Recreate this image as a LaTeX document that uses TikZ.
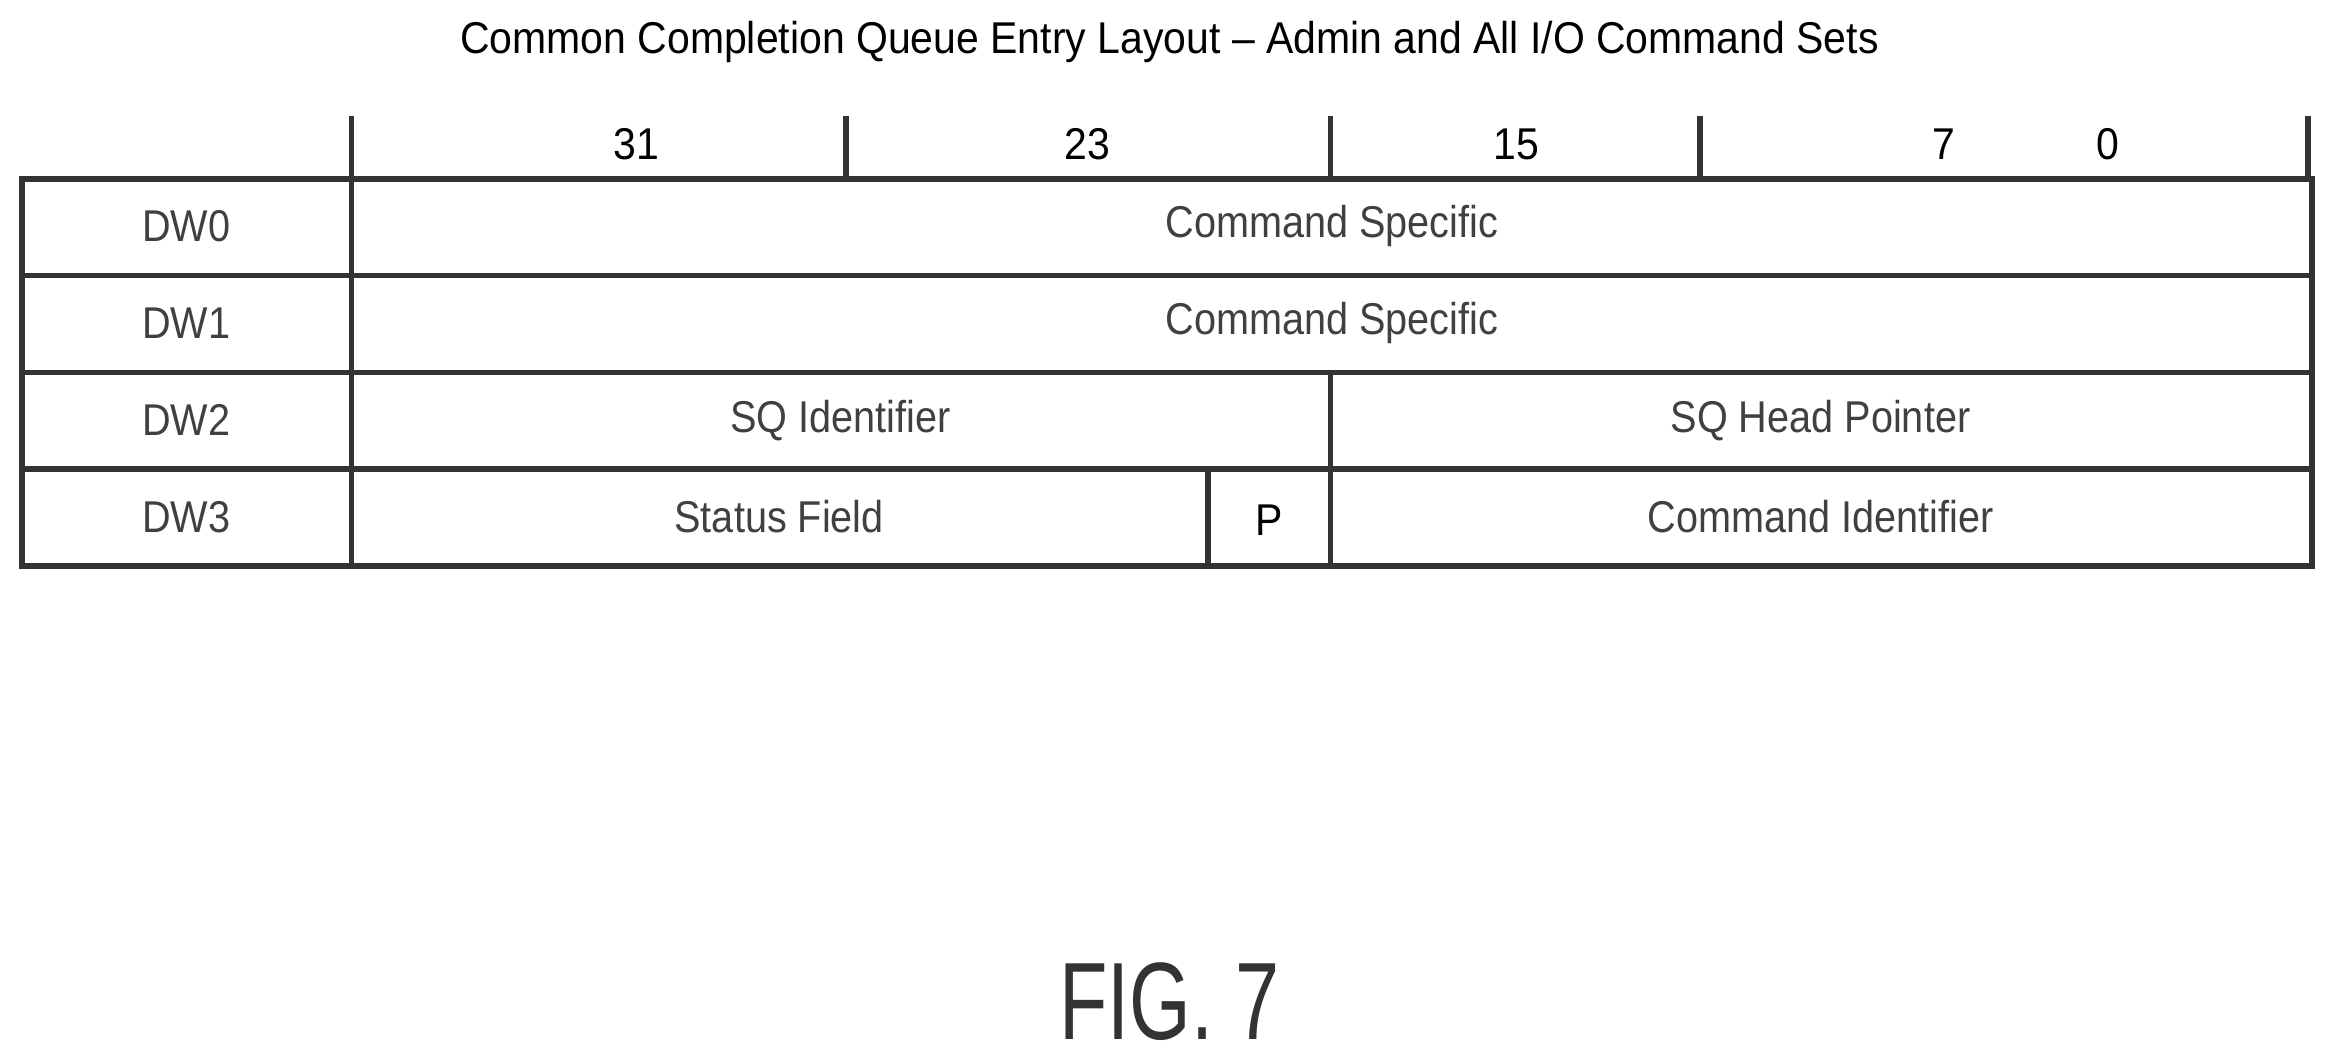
\documentclass[tikz,border=0pt]{standalone}
\usepackage{fontspec}
\setmainfont{Liberation Sans}
\begin{document}
\begin{tikzpicture}[x=0.01cm,y=-0.01cm,
  grid/.style={line width=1.1pt,draw=black!80},
  lbl/.style={font=\fontsize{8.5}{10}\selectfont,text=black!75,xscale=0.89},
  hdr/.style={font=\fontsize{8.5}{10}\selectfont,text=black,xscale=0.92}]
\useasboundingbox (0,0) rectangle (1568,712);
\node[hdr] (title) at (785,28) {Common Completion Queue Entry Layout -- Admin and All I/O Command Sets};
\foreach \x in {236,568,893,1141,1549} \draw[grid] (\x,78) -- (\x,120);
\node[hdr] (b31) at (427,97) {31};
\node[hdr] (b23) at (730,97) {23};
\node[hdr] (b15) at (1018,97) {15};
\node[hdr] (b7) at (1305,97) {7};
\node[hdr] (b0) at (1415,97) {0};
\draw[grid] (15,120) rectangle (1552,380);
\foreach \y in {185,250,315} \draw[grid] (15,\y) -- (1552,\y);
\draw[grid] (236,120) -- (236,380);
\draw[grid] (893,250) -- (893,380);
\draw[grid] (811,315) -- (811,380);
\node[lbl] (d0) at (125,152) {DW0};
\node[lbl] (d1) at (125,217) {DW1};
\node[lbl] (d2) at (125,282) {DW2};
\node[lbl] (d3) at (125,347) {DW3};
\node[lbl] (c0) at (894,152) {Command Specific};
\node[lbl] (c1) at (894,217) {Command Specific};
\node[lbl] (sqi) at (564,282) {SQ Identifier};
\node[lbl] (sqh) at (1222,282) {SQ Head Pointer};
\node[lbl] (sf) at (523,347) {Status Field};
\node[hdr] (p) at (852,349) {P};
\node[lbl] (ci) at (1222,347) {Command Identifier};
\node[font=\fontsize{21}{24}\selectfont,text=black!80,xscale=0.72] (fig) at (785,672) {FIG. 7};
\end{tikzpicture}
\end{document}
